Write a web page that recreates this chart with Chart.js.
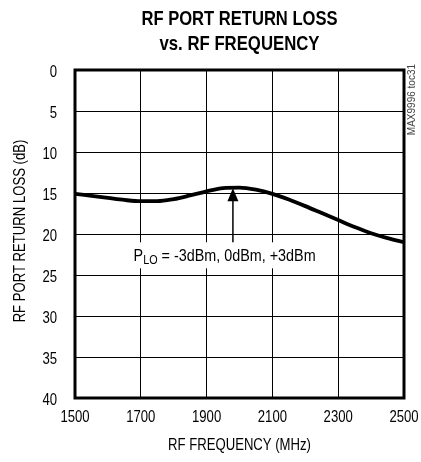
<!DOCTYPE html>
<html>
<head>
<meta charset="utf-8">
<script src="https://cdn.jsdelivr.net/npm/chart.js@4/dist/chart.umd.min.js"></script>
<style>
html,body{margin:0;padding:0;background:#fff;}
canvas{display:block;}
</style>
</head>
<body>
<canvas id="c" width="421" height="462"></canvas>
<script>
const titleLines = ["RF PORT RETURN LOSS", "vs. RF FREQUENCY"];
const xTitle = "RF FREQUENCY (MHz)";
const yTitle = "RF PORT RETURN LOSS (dB)";
const frequencies = [1500,1550,1600,1650,1700,1750,1800,1850,1900,1950,2000,2050,2100,2150,2200,2250,2300,2350,2400,2450,2500];
const returnLoss  = [15.1,15.35,15.6,15.85,16.0,16.0,15.75,15.3,14.8,14.4,14.35,14.6,15.1,15.8,16.6,17.45,18.3,19.15,19.9,20.5,21.0];
const xTicks = [1500,1700,1900,2100,2300,2500];
const yTicks = [0,5,10,15,20,25,30,35,40];
const annotationMain = "P";
const annotationSub = "LO";
const annotationRest = " = -3dBm, 0dBm, +3dBm";
const arrowFreq = 1980;
const arrowTipValue = 14.3;
const annotationValue = 22.6;
const sideNote = "MAX9996 toc31";

const FONT = '"Liberation Sans", Arial, sans-serif';
const SQUEEZE = 0.82;

function squeezedText(ctx, text, x, y, align, k) {
  const w = ctx.measureText(text).width * k;
  let left = x;
  if (align === 'center') left = x - w / 2;
  else if (align === 'right') left = x - w;
  ctx.save();
  ctx.translate(left, y);
  ctx.scale(k, 1);
  ctx.textAlign = 'left';
  ctx.fillText(text, 0, 0);
  ctx.restore();
}

const decorPlugin = {
  id: 'decor',
  beforeDatasetsDraw(chart) {
    const {ctx, chartArea: a, scales: {x, y}} = chart;
    ctx.save();
    const cx = x.getPixelForValue(1900) + 18;
    const ty = y.getPixelForValue(annotationValue);
    ctx.font = '16px ' + FONT;
    const wMain = ctx.measureText(annotationMain).width;
    ctx.font = '12px ' + FONT;
    const wSub = ctx.measureText(annotationSub).width;
    ctx.font = '16px ' + FONT;
    const wRest = ctx.measureText(annotationRest).width;
    const total = wMain + wSub + wRest;
    const target = 182;
    const k = target / total;
    ctx.fillStyle = '#fff';
    ctx.fillRect(cx - target / 2 - 6, ty - 13, target + 12, 26);
    ctx.fillStyle = '#000';
    ctx.save();
    ctx.translate(cx - target / 2, ty + 6);
    ctx.scale(k, 1);
    ctx.textBaseline = 'alphabetic';
    ctx.textAlign = 'left';
    ctx.font = '16px ' + FONT;
    ctx.fillText(annotationMain, 0, 0);
    ctx.font = '12px ' + FONT;
    ctx.fillText(annotationSub, wMain, 3);
    ctx.font = '16px ' + FONT;
    ctx.fillText(annotationRest, wMain + wSub, 0);
    ctx.restore();
    const ax = x.getPixelForValue(arrowFreq);
    const tip = y.getPixelForValue(arrowTipValue) + 1;
    ctx.strokeStyle = '#000';
    ctx.lineWidth = 1.5;
    ctx.beginPath();
    ctx.moveTo(ax, ty - 13);
    ctx.lineTo(ax, tip + 10);
    ctx.stroke();
    ctx.beginPath();
    ctx.moveTo(ax, tip);
    ctx.lineTo(ax - 5.5, tip + 13);
    ctx.lineTo(ax + 5.5, tip + 13);
    ctx.closePath();
    ctx.fill();
    ctx.restore();
  },
  afterDraw(chart) {
    const {ctx, chartArea: a, scales: {x, y}} = chart;
    ctx.save();
    ctx.strokeStyle = '#000';
    ctx.lineWidth = 3;
    ctx.strokeRect(a.left, a.top, a.right - a.left, a.bottom - a.top);
    ctx.fillStyle = '#000';
    ctx.textBaseline = 'alphabetic';
    ctx.font = '16px ' + FONT;
    x.ticks.forEach(t => squeezedText(ctx, String(t.value), x.getPixelForValue(t.value), a.bottom + 24, 'center', SQUEEZE));
    y.ticks.forEach(t => squeezedText(ctx, String(t.value), a.left - 18, y.getPixelForValue(t.value) + 7, 'right', SQUEEZE));
    squeezedText(ctx, xTitle, (a.left + a.right) / 2, 450, 'center', SQUEEZE);
    ctx.save();
    ctx.translate(25, (a.top + a.bottom) / 2 - 3);
    ctx.rotate(-Math.PI / 2);
    squeezedText(ctx, yTitle, 0, 0, 'center', SQUEEZE);
    ctx.restore();
    ctx.textAlign = 'center';
    ctx.font = 'bold 21px ' + FONT;
    const mid = (a.left + a.right) / 2;
    ctx.fillText(titleLines[0], mid, 25, 196);
    ctx.fillText(titleLines[1], mid, 50, 160);
    ctx.font = '10px ' + FONT;
    ctx.translate(a.right + 8, a.top - 6);
    ctx.rotate(-Math.PI / 2);
    ctx.textAlign = 'right';
    ctx.textBaseline = 'middle';
    ctx.fillStyle = '#444';
    ctx.fillText(sideNote, 0, 0, 72);
    ctx.restore();
  }
};

new Chart(document.getElementById('c'), {
  type: 'line',
  data: {
    datasets: [{
      data: frequencies.map((f, i) => ({x: f, y: returnLoss[i]})),
      borderColor: '#000',
      borderWidth: 3.8,
      pointRadius: 0,
      fill: false,
      cubicInterpolationMode: 'monotone'
    }]
  },
  options: {
    responsive: false,
    animation: false,
    devicePixelRatio: 1,
    layout: {padding: {top: 70, right: 17, left: 0, bottom: 0}},
    plugins: {legend: {display: false}, tooltip: {enabled: false}, title: {display: false}},
    scales: {
      x: {
        type: 'linear', min: 1500, max: 2500,
        afterBuildTicks: s => { s.ticks = xTicks.map(v => ({value: v})); },
        afterFit: s => { s.height = 64; s.paddingLeft = 0; s.paddingRight = 0; },
        grid: {color: '#000', lineWidth: 1, drawTicks: false},
        border: {display: false},
        ticks: {display: false}
      },
      y: {
        type: 'linear', min: 0, max: 40, reverse: true,
        afterBuildTicks: s => { s.ticks = yTicks.map(v => ({value: v})); },
        afterFit: s => { s.width = 75; s.paddingTop = 0; s.paddingBottom = 0; },
        grid: {color: '#000', lineWidth: 1, drawTicks: false},
        border: {display: false},
        ticks: {display: false}
      }
    }
  },
  plugins: [decorPlugin]
});
</script>
</body>
</html>
